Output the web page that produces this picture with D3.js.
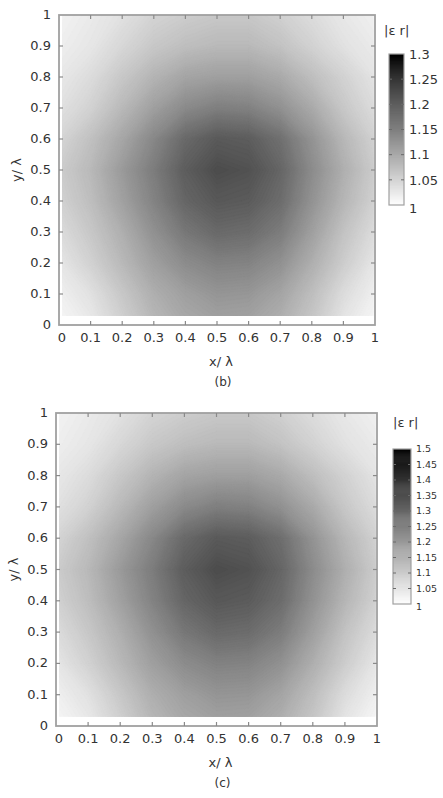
<!DOCTYPE html>
<html><head><meta charset="utf-8">
<script src="https://cdn.jsdelivr.net/npm/d3@7"></script>
<style>
body{margin:0;background:#fff}
svg{display:block}
text{font-family:"DejaVu Sans",Verdana,sans-serif;fill:#333}
</style>
</head><body>
<svg id="chart" width="443" height="798"></svg>
<script>
// sample positions of the grid (x/λ, y/λ)
const gridX = [0,0.1,0.2,0.3,0.4,0.5,0.6,0.7,0.8,0.9,1];
const gridY = [0,0.1,0.2,0.3,0.4,0.5,0.6,0.7,0.8,0.9,1];
// |εr| for panel (b), rows from y=0 (bottom) to y=1 (top), columns x=0..1
const valuesB = [
 [1.008,1.024,1.053,1.082,1.100,1.108,1.106,1.091,1.065,1.029,1.008],
 [1.018,1.035,1.065,1.094,1.112,1.124,1.122,1.106,1.076,1.041,1.018],
 [1.029,1.053,1.082,1.112,1.135,1.147,1.145,1.129,1.094,1.059,1.029],
 [1.041,1.065,1.094,1.129,1.159,1.176,1.172,1.153,1.112,1.071,1.041],
 [1.053,1.076,1.110,1.145,1.180,1.196,1.192,1.172,1.127,1.086,1.053],
 [1.059,1.082,1.118,1.153,1.190,1.210,1.204,1.180,1.135,1.094,1.059],
 [1.049,1.073,1.104,1.140,1.176,1.194,1.190,1.168,1.126,1.084,1.053],
 [1.035,1.053,1.082,1.112,1.137,1.150,1.147,1.129,1.100,1.065,1.041],
 [1.027,1.041,1.065,1.088,1.106,1.112,1.112,1.100,1.076,1.053,1.032],
 [1.020,1.029,1.047,1.065,1.076,1.082,1.082,1.071,1.053,1.035,1.024],
 [1.015,1.024,1.035,1.051,1.059,1.065,1.065,1.055,1.041,1.027,1.018]
];
// |εr| for panel (c)
const valuesC = [
 [1.013,1.040,1.088,1.137,1.167,1.180,1.177,1.152,1.108,1.048,1.013],
 [1.030,1.058,1.108,1.157,1.187,1.207,1.205,1.177,1.127,1.068,1.030],
 [1.048,1.088,1.137,1.187,1.225,1.245,1.242,1.215,1.157,1.098,1.048],
 [1.068,1.108,1.157,1.215,1.265,1.293,1.287,1.255,1.187,1.118,1.068],
 [1.088,1.127,1.183,1.242,1.300,1.327,1.320,1.287,1.212,1.143,1.088],
 [1.098,1.137,1.197,1.255,1.317,1.350,1.340,1.300,1.225,1.157,1.098],
 [1.082,1.122,1.173,1.233,1.293,1.323,1.317,1.283,1.210,1.140,1.088],
 [1.058,1.088,1.137,1.187,1.228,1.250,1.245,1.215,1.167,1.108,1.068],
 [1.045,1.068,1.108,1.147,1.177,1.187,1.187,1.167,1.127,1.088,1.053],
 [1.033,1.048,1.078,1.108,1.127,1.137,1.137,1.118,1.088,1.058,1.040],
 [1.025,1.040,1.058,1.085,1.098,1.108,1.108,1.092,1.068,1.045,1.030]
];
const axisTicks = [0,0.1,0.2,0.3,0.4,0.5,0.6,0.7,0.8,0.9,1];
const axisTickLabels = ["0","0.1","0.2","0.3","0.4","0.5","0.6","0.7","0.8","0.9","1"];
const cbTicksB = [1,1.05,1.1,1.15,1.2,1.25,1.3];
const cbLabelsB = ["1","1.05","1.1","1.15","1.2","1.25","1.3"];
const cbTicksC = [1,1.05,1.1,1.15,1.2,1.25,1.3,1.35,1.4,1.45,1.5];
const cbLabelsC = ["1","1.05","1.1","1.15","1.2","1.25","1.3","1.35","1.4","1.45","1.5"];

const svg = d3.select("#chart");
const defs = svg.append("defs");
const frameColor = "#a0a0a0";

function panel(cfg){
  const xs = d3.scaleLinear().domain([0,1]).range([cfg.x0, cfg.x1]);
  const ys = d3.scaleLinear().domain([0,1]).range([cfg.y0, cfg.y1]);
  const color = d3.scaleLinear().domain([1, cfg.vmax]).range(["#ffffff","#000000"]).clamp(true);
  const nx = gridX.length, ny = gridY.length;
  const gx = d3.scaleLinear().domain([0.5, nx-0.5]).range([gridX[0], gridX[nx-1]]);
  const gy = d3.scaleLinear().domain([0.5, ny-0.5]).range([gridY[0], gridY[ny-1]]);
  const flat = cfg.values.flat();
  const step = (cfg.vmax-1)/140;
  const thresholds = d3.range(1, cfg.vmax, step);
  const contours = d3.contours().size([nx, ny]).thresholds(thresholds)(flat);
  const path = d3.geoPath(d3.geoTransform({point(px,py){ this.stream.point(xs(gx(px)), ys(gy(py))); }}));
  const cid = "clip-"+cfg.id;
  defs.append("clipPath").attr("id", cid).append("rect")
    .attr("x", xs(0.01)).attr("y", ys(1)).attr("width", xs(0.995)-xs(0.01)).attr("height", ys(0.03)-ys(1));
  const g = svg.append("g").attr("clip-path", `url(#${cid})`);
  g.selectAll("path").data(contours).join("path")
    .attr("d", path).attr("fill", d => color(d.value + step/2))
    .attr("stroke", d => color(d.value + step/2)).attr("stroke-width", 0.4);

  // frame
  svg.append("rect").attr("x", xs(0)).attr("y", ys(1)).attr("width", xs(1)-xs(0)).attr("height", ys(0)-ys(1))
    .attr("fill","none").attr("stroke", frameColor).attr("stroke-width", 1.8);
  const inner = axisTicks.filter(t => t>0 && t<1);
  const tk = svg.append("g").attr("stroke", "#8a8a8a").attr("stroke-width", 1.2);
  inner.forEach(t => {
    tk.append("line").attr("x1", xs(t)).attr("x2", xs(t)).attr("y1", ys(0)).attr("y2", ys(0)-4);
    tk.append("line").attr("x1", xs(t)).attr("x2", xs(t)).attr("y1", ys(1)).attr("y2", ys(1)+4);
    tk.append("line").attr("y1", ys(t)).attr("y2", ys(t)).attr("x1", xs(0)).attr("x2", xs(0)+4);
    tk.append("line").attr("y1", ys(t)).attr("y2", ys(t)).attr("x1", xs(1)).attr("x2", xs(1)-4);
  });
  // tick labels
  svg.append("g").selectAll("text").data(axisTicks).join("text")
    .attr("x", d => xs(d) + (d===0 ? 3 : 0)).attr("y", cfg.y0 + 17)
    .attr("text-anchor","middle").attr("font-size", 13).text((d,i) => axisTickLabels[i]);
  svg.append("g").selectAll("text").data(axisTicks).join("text")
    .attr("x", cfg.x0 - 8).attr("y", d => ys(d) + 4)
    .attr("text-anchor","end").attr("font-size", 13).text((d,i) => axisTickLabels[i]);
  // axis titles
  svg.append("text").attr("x", (cfg.x0+cfg.x1)/2 + 4).attr("y", cfg.y0 + 41)
    .attr("text-anchor","middle").attr("font-size", 13).text("x/ λ");
  svg.append("text").attr("transform", `translate(${cfg.x0-38},${(cfg.y0+cfg.y1)/2}) rotate(-90)`)
    .attr("text-anchor","middle").attr("font-size", 13).text("y/ λ");
  svg.append("text").attr("x", (cfg.x0+cfg.x1)/2 + 6).attr("y", cfg.y0 + 61)
    .attr("text-anchor","middle").attr("font-size", 12).text(cfg.caption);

  // colorbar
  const cb = cfg.cb;
  const cs = d3.scaleLinear().domain([1, cfg.vmax]).range([cb.y0, cb.y1]);
  const cbStep = (cfg.vmax-1)/150;
  svg.append("g").selectAll("rect").data(d3.range(1, cfg.vmax, cbStep)).join("rect")
    .attr("x", cb.x).attr("width", cb.w)
    .attr("y", d => cs(d+cbStep)).attr("height", d => cs(d)-cs(d+cbStep)+0.5)
    .attr("fill", d => color(d + cbStep/2));
  svg.append("rect").attr("x", cb.x).attr("y", cb.y1).attr("width", cb.w).attr("height", cb.y0-cb.y1)
    .attr("fill","none").attr("stroke", frameColor).attr("stroke-width", 1.2);
  const ct = svg.append("g").attr("stroke", "#6a6a6a").attr("stroke-width", 1);
  cfg.cbTicks.filter((t,i) => i>0 && i<cfg.cbTicks.length-1).forEach(t => {
    ct.append("line").attr("x1", cb.x).attr("x2", cb.x+3).attr("y1", cs(t)).attr("y2", cs(t));
    ct.append("line").attr("x1", cb.x+cb.w).attr("x2", cb.x+cb.w-3).attr("y1", cs(t)).attr("y2", cs(t));
  });
  svg.append("g").selectAll("text").data(cfg.cbTicks).join("text")
    .attr("x", cb.x + cb.w + cb.pad).attr("y", d => cs(d) + cb.fs*0.36 + (d===1 ? 3 : 0))
    .attr("font-size", cb.fs).text((d,i) => cfg.cbLabels[i]);
  svg.append("text").attr("x", cb.tx).attr("y", cb.ty).attr("font-size", 13).text("|ε r|");
}

panel({id:"b", values: valuesB, vmax: 1.3, x0: 59, x1: 375, y0: 325, y1: 15, caption: "(b)",
  cbTicks: cbTicksB, cbLabels: cbLabelsB,
  cb: {x: 389, w: 15, y0: 205, y1: 54, pad: 5, fs: 13, tx: 384, ty: 35}});
panel({id:"c", values: valuesC, vmax: 1.5, x0: 56, x1: 377, y0: 726, y1: 413, caption: "(c)",
  cbTicks: cbTicksC, cbLabels: cbLabelsC,
  cb: {x: 393, w: 18, y0: 604, y1: 449, pad: 5, fs: 9.5, tx: 393, ty: 427}});
</script>
</body></html>
